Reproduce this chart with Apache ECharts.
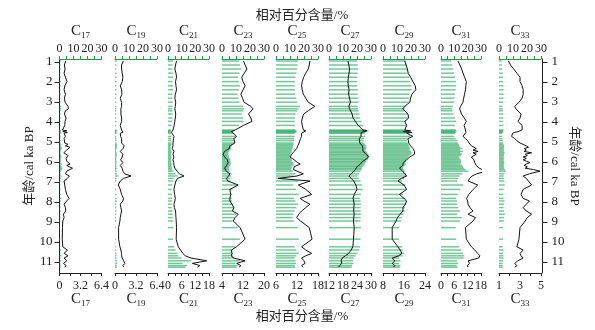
<!DOCTYPE html>
<html>
<head>
<meta charset="utf-8">
<script src="https://cdn.jsdelivr.net/npm/echarts@6/dist/echarts.min.js"></script>
<style>html,body{margin:0;padding:0;background:#fff}#c{width:595px;height:330px}</style>
</head>
<body>
<div id="c"></div>
<script>
// sample ages (cal ka BP)
const ages = [0.95,1.15,1.35,1.56,1.76,1.98,2.19,2.39,2.61,2.81,
 3.01,3.22,3.34,3.44,3.60,3.80,3.97,4.17,4.40,4.44,
 4.48,4.52,4.56,4.72,4.83,4.93,5.05,5.12,5.19,5.26,
 5.33,5.40,5.47,5.54,5.61,5.68,5.75,5.82,5.89,5.96,
 6.03,6.10,6.17,6.24,6.31,6.38,6.46,6.59,6.70,6.82,
 6.95,7.15,7.37,7.62,7.82,7.95,8.11,8.28,8.45,8.61,
 8.78,8.95,9.28,9.86,10.24,10.40,10.57,10.69,10.80,10.94,
 11.07,11.18,11.26];

// relative percentage (%) of each n-alkane
const C17 = [0.94,0.75,0.85,0.7,0.9,1.15,0.8,0.7,0.9,0.75,
 0.85,1.3,1.35,0.9,0.75,1.0,0.85,0.8,0.45,1.1,
 0.5,1.2,0.7,0.9,0.7,1.0,0.8,1.3,0.9,1.6,
 1.72,1.1,0.8,0.65,0.9,1.3,1.46,1.0,0.8,1.1,
 0.9,1.6,1.1,1.5,1.98,1.7,1.1,0.9,1.5,1.2,
 0.7,0.8,0.9,1.1,1.46,1.1,0.7,0.9,0.95,0.6,
 0.7,0.5,0.45,0.42,0.5,1.2,0.7,1.3,0.7,1.1,
 0.6,1.0,0.8];
const C19 = [1.27,1.0,1.0,1.1,1.2,1.1,0.8,1.0,1.05,0.8,
 1.0,1.0,0.9,0.8,0.9,1.0,1.0,0.8,1.0,1.3,
 0.9,1.2,0.8,0.85,1.0,1.05,1.0,1.2,1.4,1.5,
 1.2,0.9,0.8,1.0,1.2,1.3,1.1,0.9,0.85,1.0,
 1.2,1.0,0.8,0.9,1.1,1.0,1.2,1.5,2.44,1.3,
 0.8,0.5,0.8,1.0,1.3,1.2,0.8,0.9,1.0,0.9,
 0.8,0.75,0.55,0.55,0.75,0.9,1.0,1.0,1.1,1.3,
 1.5,1.2,1.35];
const C21 = [3.75,3.3,3.0,3.5,3.75,3.3,3.5,3.75,3.2,3.0,
 3.4,3.2,3.0,3.3,3.4,3.2,3.0,2.7,2.2,1.6,
 2.0,1.5,2.2,2.6,2.4,2.3,2.2,2.5,2.2,2.0,
 1.9,2.2,2.6,2.5,2.2,2.4,2.6,2.3,2.2,2.4,
 2.5,2.8,2.6,2.7,3.0,3.2,4.0,5.0,7.05,4.2,
 3.5,3.0,2.6,2.9,3.2,3.0,2.6,2.8,3.3,3.4,
 3.5,3.6,3.75,3.6,4.5,5.5,6.5,7.6,10.0,17.0,
 10.7,14.0,12.9];
const C23 = [12.2,12.8,13.5,12.5,11.5,12.0,12.8,12.0,11.2,11.8,
 12.4,15.0,15.8,15.2,14.1,15.0,15.4,12.2,9.0,8.3,
 7.6,7.2,8.0,9.6,8.5,8.3,8.9,8.0,7.0,6.3,
 6.8,5.8,5.0,4.5,4.4,4.8,5.0,5.5,6.0,6.0,
 6.3,6.3,5.8,5.4,5.0,5.0,5.6,7.0,6.5,5.7,
 6.2,10.2,7.0,7.3,7.0,7.0,7.8,8.5,8.0,10.2,
 9.0,8.3,10.9,12.8,9.5,7.6,7.8,7.6,8.3,12.8,
 9.6,11.2,10.5];
const C25 = [15.7,15.5,15.2,14.5,13.9,13.5,13.3,13.5,13.8,14.5,
 15.2,17.1,16.0,15.2,13.9,13.5,13.3,13.5,13.8,14.5,
 14.8,14.0,13.3,13.3,13.0,12.9,12.6,12.4,12.2,12.0,
 11.9,11.5,11.2,11.0,10.5,10.2,10.0,10.6,11.2,11.4,
 12.2,12.9,12.0,11.2,11.0,11.0,12.0,13.8,12.0,6.6,
 15.7,12.4,14.5,16.2,12.9,14.0,15.7,14.5,13.3,12.5,
 11.9,13.0,15.5,16.3,13.3,14.5,16.2,14.5,13.3,14.0,
 14.3,13.3,13.8];
const C27 = [20.1,20.5,20.8,20.6,20.3,20.1,20.3,20.6,20.4,20.8,
 21.2,20.5,20.8,21.2,21.9,22.3,23.3,24.5,26.5,28.2,
 27.0,25.8,25.4,25.7,25.0,24.7,25.2,25.8,26.3,26.8,
 26.5,26.0,26.6,27.3,28.0,28.5,28.9,28.2,27.5,26.5,
 26.1,25.5,24.8,24.0,23.5,23.3,22.5,21.5,20.5,21.5,
 22.6,23.5,24.0,22.8,22.3,22.6,22.8,22.6,22.6,22.8,
 22.6,22.5,22.8,22.5,22.2,21.5,20.4,19.0,17.7,17.2,
 17.5,16.5,16.2];
const C29 = [16.3,16.8,17.3,17.6,18.5,19.4,20.3,20.5,19.0,18.5,
 18.2,16.3,15.5,15.0,17.5,17.8,16.3,17.0,16.3,18.5,
 15.6,19.0,17.0,19.4,17.5,17.0,17.8,18.2,18.5,19.0,
 19.4,19.0,20.0,20.7,20.0,19.0,18.2,17.5,17.0,16.3,
 15.8,16.3,15.5,14.8,14.3,14.8,15.5,16.3,17.0,15.0,
 13.7,16.0,17.0,14.3,16.0,17.0,16.5,15.6,15.6,14.5,
 13.5,13.0,11.5,11.5,13.7,14.5,15.2,14.0,11.5,12.5,
 11.5,12.5,12.0];
const C31 = [7.65,8.5,9.3,9.9,10.6,11.4,11.2,11.0,10.6,10.2,
 9.9,8.8,8.4,8.6,9.2,10.5,11.4,10.4,11.0,11.6,
 10.4,11.2,10.5,9.9,11.0,12.0,12.6,13.3,13.7,14.6,
 15.9,14.4,16.7,14.4,15.9,14.8,13.7,14.0,14.8,15.2,
 15.2,14.6,15.8,16.5,17.2,18.6,20.6,16.0,14.0,12.9,
 12.2,16.5,14.5,12.5,11.5,12.0,12.2,13.0,14.4,12.2,
 15.5,14.4,11.0,11.4,13.7,15.2,16.5,17.5,17.0,12.2,
 12.9,11.8,12.2];
const C33 = [1.9,2.1,2.4,2.7,3.0,3.0,3.2,3.3,3.3,3.2,
 2.9,2.5,2.6,2.7,3.1,3.0,2.8,3.2,3.2,3.0,
 2.8,2.5,2.3,2.2,2.5,2.7,3.0,3.3,3.6,3.8,
 3.4,3.6,3.4,4.1,3.5,3.7,3.3,3.6,3.3,3.6,
 3.95,3.6,3.4,3.7,3.5,4.3,4.9,3.9,3.3,3.6,
 3.8,4.1,3.3,3.1,3.3,3.9,3.6,3.3,3.6,4.1,
 3.7,3.5,3.0,2.9,2.7,3.3,3.0,3.1,3.3,2.8,
 2.5,2.7,2.5];

const names = ['17','19','21','23','25','27','29','31','33'];
const seriesData = [C17,C19,C21,C23,C25,C27,C29,C31,C33];
// bottom (line) axis scales
const bottomMin  = [0,0,0,4,6,12,8,0,1];
const bottomMax  = [6.4,6.4,18,20,18,30,24,18,5];
const bottomStep = [3.2,3.2,6,8,6,6,8,6,2];
const bottomMinor= [2,2,2,2,3,2,2,2,2];
// top (bar) axis
const topMin = 0, topMax = 30, topStep = 10;
const yTicks = [1,2,3,4,5,6,7,8,9,10,11];

// layout
const panelLeft  = [59.5,115,168,222,276,329,383,441,499];
const panelWidth = [42,42,41,42,42,42,42,40,42];
const GREEN = '#1e9a50';
const BARGREEN = '#20a458';
const SERIF = "'Liberation Serif','Noto Sans CJK SC',serif";

const rich = {
  c:{fontSize:15,fontFamily:SERIF,color:'#222',lineHeight:18,verticalAlign:'middle'},
  s:{fontSize:9,fontFamily:SERIF,color:'#222',lineHeight:9,verticalAlign:'bottom'}
};

const grids=[],xAxes=[],yAxes=[],series=[];
names.forEach((n,i)=>{
  grids.push({left:panelLeft[i],width:panelWidth[i],top:59,height:214});
  xAxes.push({
    gridIndex:i,type:'value',position:'top',min:topMin,max:topMax,interval:topStep,
    axisLine:{show:true,onZero:false,lineStyle:{color:GREEN,width:1}},
    axisTick:{show:true,length:3,lineStyle:{color:GREEN}},
    minorTick:{show:true,splitNumber:2,length:3,lineStyle:{color:GREEN}},
    axisLabel:{color:'#222',fontSize:12,fontFamily:SERIF,margin:4},
    splitLine:{show:false},minorSplitLine:{show:false},
    name:'{c|C}{s|'+n+'}',nameLocation:'middle',nameGap:19,nameMoveOverlap:false,
    nameTextStyle:{rich:rich}
  });
  xAxes.push({
    gridIndex:i,type:'value',position:'bottom',min:bottomMin[i],max:bottomMax[i],interval:bottomStep[i],
    axisLine:{show:true,onZero:false,lineStyle:{color:'#222',width:1}},
    axisTick:{show:true,length:3,lineStyle:{color:'#222'}},
    minorTick:{show:true,splitNumber:bottomMinor[i],length:3,lineStyle:{color:'#222'}},
    axisLabel:{color:'#222',fontSize:12,fontFamily:SERIF,margin:7},
    splitLine:{show:false},minorSplitLine:{show:false},
    name:'{c|C}{s|'+n+'}',nameLocation:'middle',nameGap:17,nameMoveOverlap:false,
    nameTextStyle:{rich:rich}
  });
  const isL=i===0,isR=i===names.length-1;
  yAxes.push({
    gridIndex:i,type:'value',inverse:true,min:0.85,max:11.55,
    show:isL||isR,position:isR?'right':'left',offset:isR?1.5:0,
    axisLine:{show:true,onZero:false,lineStyle:{color:'#222',width:1}},
    axisTick:{show:true,length:5,customValues:yTicks,lineStyle:{color:'#222'}},
    axisLabel:{customValues:yTicks,color:'#222',fontSize:13,fontFamily:SERIF,margin:isR?9:7},
    splitLine:{show:false},
    name:'年龄/cal ka BP',nameLocation:'middle',nameRotate:isR?-90:90,nameGap:isR?25:22,
    nameTextStyle:{color:'#222',fontSize:13,fontFamily:SERIF}
  });
  const pts = seriesData[i].map((v,k)=>[v,ages[k]]);
  series.push({
    type:'custom',xAxisIndex:2*i,yAxisIndex:i,data:pts,encode:{x:0,y:1},silent:true,
    renderItem:function(params,api){
      const y=api.value(1),v=api.value(0);
      const p0=api.coord([0,y]),p1=api.coord([v,y]);
      return {type:'rect',shape:{x:p0[0],y:p0[1]-0.75,width:Math.max(p1[0]-p0[0],0.6),height:1.5},
        style:{fill:BARGREEN,opacity:0.62}};
    }
  });
  series.push({
    type:'line',xAxisIndex:2*i+1,yAxisIndex:i,data:pts,symbol:'none',showSymbol:false,
    clip:false,silent:true,lineStyle:{color:'#111',width:1}
  });
});

const chart = echarts.init(document.getElementById('c'),null,{renderer:'canvas'});
chart.setOption({
  animation:false,
  backgroundColor:'#fff',
  grid:grids,xAxis:xAxes,yAxis:yAxes,series:series,
  graphic:[
    {type:'text',x:302,y:16,style:{text:'相对百分含量/%',fill:'#222',font:"13px "+SERIF,textAlign:'center',textVerticalAlign:'middle'}},
    {type:'text',x:302,y:317,style:{text:'相对百分含量/%',fill:'#222',font:"13px "+SERIF,textAlign:'center',textVerticalAlign:'middle'}}
  ]
});
</script>
</body>
</html>
